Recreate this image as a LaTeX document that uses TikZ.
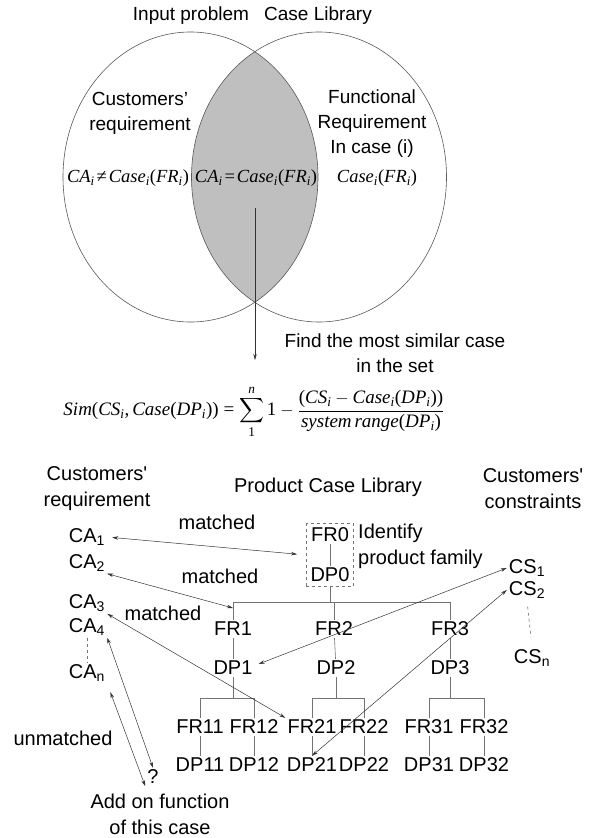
\documentclass[tikz,border=0pt]{standalone}
\usepackage{exscale}
\usepackage[no-math]{fontspec}
\setmainfont{Liberation Sans}
\newfontfamily\timesfam{Liberation Serif}[NFSSFamily=libserif]
\DeclareSymbolFont{letters}{TU}{libserif}{m}{it}
\DeclareSymbolFont{operators}{TU}{libserif}{m}{n}
\mathcode`\,="602C
\newcommand{\caseneq}{\Umathchar"3"0"2260}
\usetikzlibrary{arrows.meta,fit}

\definecolor{lensgray}{gray}{0.75}
\definecolor{rimgray}{gray}{0.35}
\definecolor{treegray}{gray}{0.45}
\definecolor{linkgray}{gray}{0.2}

\begin{document}
\begin{tikzpicture}[x=1pt, y=-1pt, >={Stealth[length=6pt,width=3.5pt]},
    txt/.style={font=\fontsize{19}{25}\selectfont, align=center},
    mth/.style={font=\fontsize{18.5}{22}\selectfont, inner sep=1pt},
    lbl/.style={font=\fontsize{20}{26}\selectfont, align=center, inner sep=2pt},
    tree/.style={treegray, line width=0.6pt},
    link/.style={<->, linkgray, line width=0.5pt}]

    \useasboundingbox (0,0) rectangle (593,838);

    % Venn diagram
    \begin{scope}
      \clip (190.5,177) ellipse [x radius=127.5pt, y radius=145pt];
      \fill[lensgray] (319,177) ellipse [x radius=127.5pt, y radius=145pt];
    \end{scope}
    \draw[rimgray, line width=0.6pt] (190.5,177) ellipse [x radius=127.5pt, y radius=145pt];
    \draw[rimgray, line width=0.6pt] (319,177) ellipse [x radius=127.5pt, y radius=145pt];

    \node[txt] (inprob) at (191,16) {Input problem};
    \node[txt] (caselib) at (318,16) {Case Library};
    \node[txt] (custreq) at (140,113) {Customers'\\requirement};
    \node[txt] (funcreq) at (372,124) {Functional\\Requirement\\In case (i)};
    \node[mth] (neq) at (128,178) {$CA_i\!\caseneq\! Case_i(FR_i)$};
    \node[mth] (eq) at (256,178) {$CA_i\!=\!Case_i(FR_i)$};
    \node[mth] (caseonly) at (377,178) {$Case_i(FR_i)$};

    % Similarity
    \coordinate (lensdot) at (255,208);
    \coordinate (simtop) at (255,360);
    \draw[->, linkgray, line width=0.5pt] (lensdot) -- (simtop);
    \node[txt] (findsim) at (395,353) {Find the most similar case\\in the set};
    \node[txt] (simeq) at (254,412)
      {$\displaystyle Sim(CS_i,Case(DP_i))=\sum_1^n 1-\frac{(CS_i-Case_i(DP_i))}{system\,range(DP_i)}$};

    % Column heads
    \node[lbl] (custreqb) at (97,489) {Customers\textquotesingle\\requirement};
    \node[lbl] (prodlib) at (328,487) {Product Case Library};
    \node[lbl] (custcon) at (533,489) {Customers\textquotesingle\\constraints};

    % Customers' requirement
    \node[lbl] (ca1) at (87,537) {CA\textsubscript{1}};
    \node[lbl] (ca2) at (87,563) {CA\textsubscript{2}};
    \node[lbl] (ca3) at (87,603) {CA\textsubscript{3}};
    \node[lbl] (ca4) at (87,627) {CA\textsubscript{4}};
    \node[lbl] (can) at (87,673) {CA\textsubscript{n}};
    \draw[dashed, treegray, line width=0.6pt] (ca4.south) -- (can.north);

    % Customers' constraints
    \node[lbl] (cs1) at (527,568) {CS\textsubscript{1}};
    \node[lbl] (cs2) at (527,590) {CS\textsubscript{2}};
    \node[lbl] (csn) at (532,658) {CS\textsubscript{n}};
    \draw[dashed, treegray, line width=0.6pt, shorten <=6pt, shorten >=10pt] (cs2.south) -- (csn.north);

    % Product family
    \node[lbl] (fr0) at (330,535) {FR0};
    \node[lbl] (dp0) at (330,575) {DP0};
    \node[draw, dashed, treegray, line width=0.6pt, inner sep=2pt, fit=(fr0)(dp0)] (family) {};
    \draw[tree] (fr0) -- (dp0);
    \node[lbl, anchor=west, align=left] (identify) at (356,546) {Identify\\product family};

    % Level 1
    \node[lbl] (fr1) at (233,629) {FR1};
    \node[lbl] (fr2) at (334,629) {FR2};
    \node[lbl] (fr3) at (450,629) {FR3};
    \node[lbl] (dp1) at (233,668) {DP1};
    \node[lbl] (dp2) at (336,668) {DP2};
    \node[lbl] (dp3) at (450,668) {DP3};
    \coordinate (bar0) at (330,602);
    \draw[tree] (family.south) -- (bar0);
    \draw[tree] (fr1.north) -- (fr1.north |- bar0) -- (fr3.north |- bar0) -- (fr3.north);
    \draw[tree] (fr2.north |- bar0) -- (fr2.north);
    \draw[tree] (fr1) -- (dp1);
    \draw[tree] (fr2) -- (dp2);
    \draw[tree] (fr3) -- (dp3);

    % Level 2
    \node[lbl] (fr11) at (200,727) {FR11};
    \node[lbl] (fr12) at (254,727) {FR12};
    \node[lbl] (fr21) at (312,727) {FR21};
    \node[lbl] (fr22) at (364,727) {FR22};
    \node[lbl] (fr31) at (429,727) {FR31};
    \node[lbl] (fr32) at (484,727) {FR32};
    \node[lbl] (dp11) at (200,765) {DP11};
    \node[lbl] (dp12) at (254,765) {DP12};
    \node[lbl] (dp21) at (312,765) {DP21};
    \node[lbl] (dp22) at (364,765) {DP22};
    \node[lbl] (dp31) at (429,765) {DP31};
    \node[lbl] (dp32) at (484,765) {DP32};
    \coordinate (bar1) at (233,698);
    \coordinate (bar2) at (336,698);
    \coordinate (bar3) at (450,698);
    \draw[tree] (dp1.south) -- (bar1);
    \draw[tree] (dp2.south) -- (bar2);
    \draw[tree] (dp3.south) -- (bar3);
    \draw[tree] (fr11.north) -- (fr11.north |- bar1) -- (fr12.north |- bar1) -- (fr12.north);
    \draw[tree] (fr21.north) -- (fr21.north |- bar2) -- (fr22.north |- bar2) -- (fr22.north);
    \draw[tree] (fr31.north) -- (fr31.north |- bar3) -- (fr32.north |- bar3) -- (fr32.north);
    \draw[tree] (fr11) -- (dp11);
    \draw[tree] (fr12) -- (dp12);
    \draw[tree] (fr21) -- (dp21);
    \draw[tree] (fr22) -- (dp22);
    \draw[tree] (fr31) -- (dp31);
    \draw[tree] (fr32) -- (dp32);

    % Unmatched
    \node[lbl] (unmatched) at (63,738) {unmatched};
    \node[lbl] (query) at (153,777) {?};
    \node[lbl] (addon) at (160,814) {Add on function\\of this case};

    % Matching links
    \coordinate (fr1hook) at (233,608);
    \draw[link, shorten <=5pt, shorten >=9pt] (ca1.east) -- (family.west);
    \node[lbl] (match1) at (217,522) {matched};
    \draw[link] (ca2.south east) -- (fr1hook);
    \node[lbl] (match2) at (220,576) {matched};
    \draw[link] (ca3.south east) -- (fr21.north west);
    \node[lbl] (match3) at (163,613) {matched};
    \draw[link] (ca4.south east) -- (query.north);
    \draw[link, shorten <=9pt] (can.south east) -- (query.south west);
    \draw[link] (cs1.west) -- ([xshift=4pt,yshift=4pt]dp1.east);
    \draw[link] (cs2.west) -- (dp21.north);
\end{tikzpicture}
\end{document}
